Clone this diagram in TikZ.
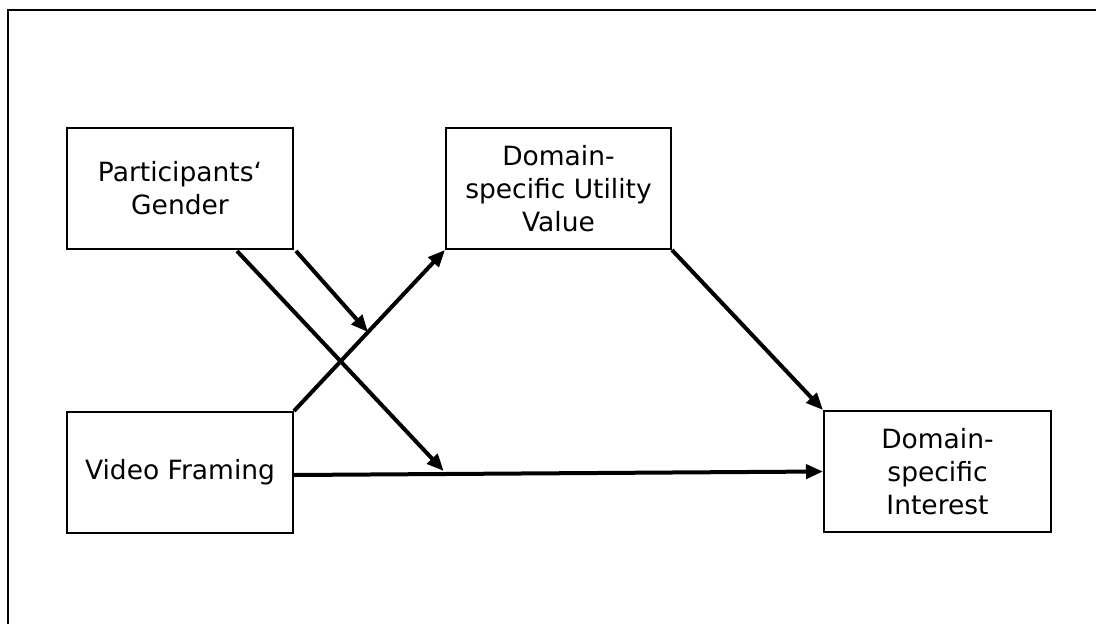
\documentclass[tikz,border=0pt]{standalone}
\usepackage{fontspec}
\setmainfont{DejaVu Sans}
\usetikzlibrary{arrows.meta,calc}
\begin{document}
\begin{tikzpicture}[x=1pt,y=-1pt,
  box/.style={draw=black,line width=2pt,rectangle,inner sep=0pt,align=center,
    font=\fontsize{26.5}{33}\selectfont,minimum height=121pt},
  path/.style={line width=4pt,-{Triangle[length=17pt,width=14pt]}},
  frameline/.style={line width=2pt}]
\useasboundingbox (0,0) rectangle (1096,624);
\draw[frameline] (1096,10) -- (8,10) -- (8,624);
\node[box,minimum width=226pt] (gender) at (180,188.5) {Participants‘\\Gender};
\node[box,minimum width=225pt] (utility) at (558.5,188.5) {Domain-\\specific Utility\\Value};
\node[box,minimum width=226pt] (video) at (180,472.5) {Video Framing};
\node[box,minimum width=227pt] (interest) at (937.5,471.5) {Domain-\\specific\\Interest};
% mediation paths
\draw[path] (video.north east) -- (utility.south west);
\draw[path] (utility.south east) -- (interest.north west);
\draw[path] ([yshift=-2.5pt]video.east) -- (interest.west);
% moderation paths
\coordinate (m1) at ($(video.north east)!0.49!(utility.south west)$);
\coordinate (m2) at ($([yshift=-2.5pt]video.east)!0.283!(interest.west)+(0,-3)$);
\coordinate (g1) at ($(gender.south west)!0.75!(gender.south east)$);
\draw[path] ([xshift=2pt,yshift=-1pt]gender.south east) -- (m1);
\draw[path] ([yshift=-1pt]g1) -- (m2);
\end{tikzpicture}
\end{document}
